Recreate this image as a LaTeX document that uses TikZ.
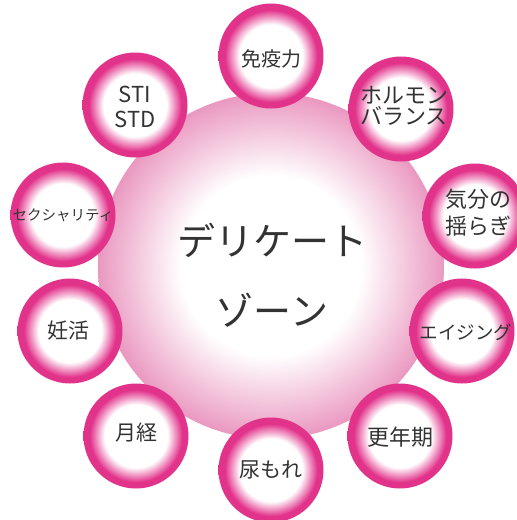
\documentclass[tikz,border=0pt]{standalone}
\usepackage{fontspec}
\setmainfont{Noto Sans CJK JP}
\usetikzlibrary{shadings}
\definecolor{pinkd}{HTML}{E2338B}
\definecolor{pinkl}{HTML}{EA98C0}
\definecolor{txt}{HTML}{333333}
\pgfdeclareradialshading{smallball}{\pgfpointorigin}{color(0bp)=(white); color(15bp)=(white); color(22bp)=(pinkd); color(25bp)=(pinkd); color(50bp)=(pinkd)}
\pgfdeclareradialshading{bigball}{\pgfpointorigin}{color(0bp)=(white); color(13bp)=(white); color(25bp)=(pinkl); color(50bp)=(pinkl)}
\tikzset{
  ball/.style={circle, minimum size=105pt, inner sep=0pt, shading=smallball},
  lbl/.style={text=txt, align=center, inner sep=0pt},
}
\begin{document}
\begin{tikzpicture}[x=1pt,y=-1pt]
\useasboundingbox (0,0) rectangle (517,520);
\node[circle, minimum size=346pt, inner sep=0pt, shading=bigball] (c) at (271,266) {};
\node[lbl, font=\fontsize{38}{70}\selectfont] (ct) at (272,275) {デリケート\\ゾーン};

\node[ball] (b1) at (271,56) {};
\node[ball] (b2) at (401,109) {};
\node[ball] (b3) at (475,216) {};
\node[ball] (b4) at (462,331) {};
\node[ball] (b5) at (400,436) {};
\node[ball] (b6) at (271,470) {};
\node[ball] (b7) at (136,436) {};
\node[ball] (b8) at (70,331) {};
\node[ball] (b9) at (63,215) {};
\node[ball] (b10) at (135,105) {};

\node[lbl, font=\fontsize{20}{24}\selectfont] (t1) at (271,59) {免疫力};
\node[lbl, font=\fontsize{22}{21}\selectfont] (t2) at (404,106) {ホルモン\\バランス};
\node[lbl, font=\fontsize{22}{27}\selectfont] (t3) at (478,213) {気分の\\揺らぎ};
\node[lbl, font=\fontsize{18.5}{22}\selectfont] (t4) at (466,332) {エイジング};
\node[lbl, font=\fontsize{22}{26}\selectfont] (t5) at (400,437) {更年期};
\node[lbl, font=\fontsize{21}{26}\selectfont] (t6) at (271,470) {尿もれ};
\node[lbl, font=\fontsize{21}{26}\selectfont] (t7) at (136,433) {月経};
\node[lbl, font=\fontsize{21}{26}\selectfont] (t8) at (68,331) {妊活};
\node[lbl, font=\fontsize{14.5}{18}\selectfont] (t9) at (63,215) {セクシャリティ};
\node[lbl, font=\fontsize{22}{25}\selectfont] (t10) at (135,107) {STI\\STD};
\end{tikzpicture}
\end{document}
